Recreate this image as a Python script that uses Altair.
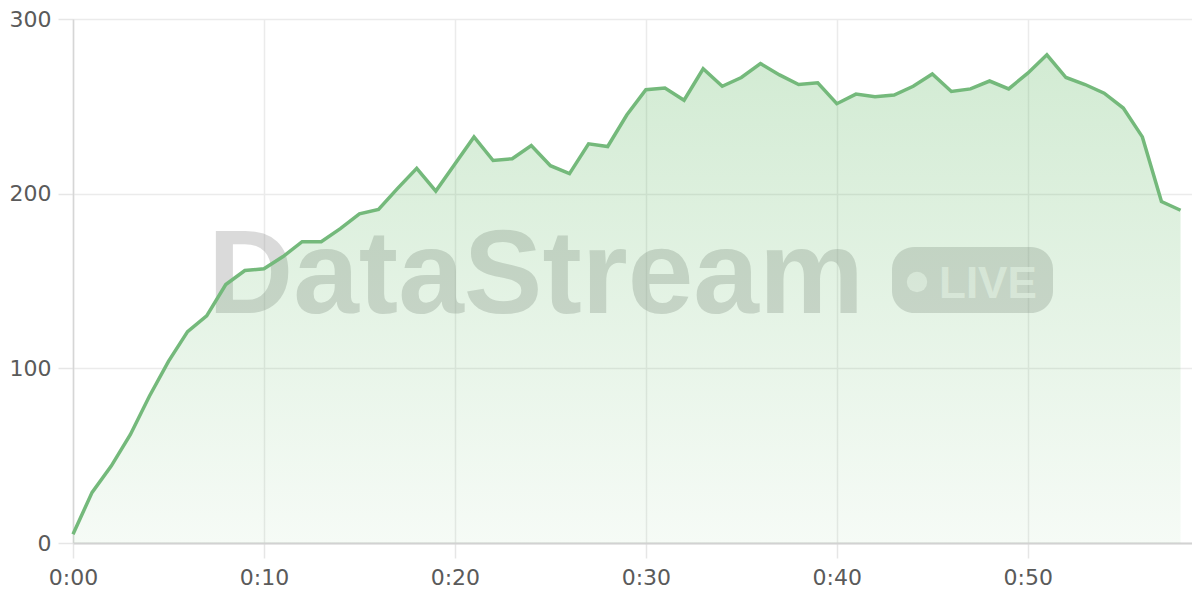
import altair as alt
import pandas as pd

# ---- data ----
minutes = list(range(59))
viewers = [5, 29, 44, 62, 84, 104, 121, 130, 148, 156,
           157, 164, 172.5, 172.5, 180, 188.5, 191, 203, 214.5, 201.5,
           217, 232.5, 219, 220, 227.5, 216, 211.5, 228.5, 227, 245,
           259.5, 260.5, 253.5, 271.5, 261.5, 266.5, 274.5, 268, 262.5, 263.5,
           251.5, 257, 255.5, 256.5, 261.5, 268.5, 258.5, 260, 264.5, 260,
           269, 279.5, 266.5, 262.5, 257.5, 249, 232.5, 195.5, 190.5]
x_ticks = [0, 10, 20, 30, 40, 50]
y_ticks = [0, 100, 200, 300]
watermark_text = ["DataStream"]
badge_text = ["LIVE"]

df = pd.DataFrame({"minute": minutes, "value": viewers})

FONT = "DejaVu Sans"

x_enc = alt.X(
    "minute:Q",
    scale=alt.Scale(domain=[0, 58.6], nice=False, zero=False),
    axis=alt.Axis(
        values=x_ticks,
        labelExpr="'0:' + (datum.value < 10 ? '0' : '') + datum.value",
        title=None,
        labelFlush=False,
        domainColor="#d2d2d2", domainWidth=2,
        gridColor="#ebebeb", gridWidth=1.5,
        tickColor="#e6e6e6", tickSize=15, tickWidth=1.5,
        labelFont=FONT, labelFontSize=22, labelColor="#5a5a5a",
        labelPadding=9,
    ),
)
y_enc = alt.Y(
    "value:Q",
    scale=alt.Scale(domain=[0, 300], nice=False),
    axis=alt.Axis(
        values=y_ticks,
        title=None,
        labelFlush=False,
        domainColor="#d6d6d6", domainWidth=1.5,
        gridColor="#ebebeb", gridWidth=1.5,
        tickColor="#e6e6e6", tickSize=15, tickWidth=1.5,
        labelFont=FONT, labelFontSize=22, labelColor="#5a5a5a",
        labelPadding=7,
    ),
)

base = alt.Chart(df)

area = base.mark_area(
    color=alt.Gradient(
        gradient="linear",
        stops=[
            alt.GradientStop(color="rgba(76,175,80,0.05)", offset=0),
            alt.GradientStop(color="rgba(76,175,80,0.25)", offset=1),
        ],
        x1=1, x2=1, y1=1, y2=0,
    )
).encode(x=x_enc, y=y_enc)

line = base.mark_line(color="#74b97b", strokeWidth=3.5).encode(x=x_enc, y=y_enc)

wm_df = pd.DataFrame({"label": watermark_text})
watermark = alt.Chart(wm_df).mark_text(
    align="left", baseline="alphabetic", font="Liberation Sans", fontWeight="bold",
    fontSize=118, color="#8f8f8f", opacity=0.32,
).encode(x=alt.value(135), y=alt.value(294), text="label:N")

pill = alt.Chart(wm_df).mark_rect(
    cornerRadius=22, color="#8f8f8f", opacity=0.32,
).encode(x=alt.value(819), x2=alt.value(980), y=alt.value(228), y2=alt.value(294))

dot = alt.Chart(wm_df).mark_circle(
    size=415, color="#ffffff", opacity=0.6,
).encode(x=alt.value(844), y=alt.value(263))

badge_df = pd.DataFrame({"label": badge_text})
live = alt.Chart(badge_df).mark_text(
    align="left", baseline="alphabetic", font="Liberation Sans", fontWeight="bold",
    fontSize=44, color="#ffffff", opacity=0.6,
).encode(x=alt.value(866), y=alt.value(279), text="label:N")

chart = alt.layer(watermark, pill, dot, live, area, line).properties(
    width=1119, height=524,
    autosize=alt.AutoSizeParams(type="none"),
    padding={"left": 65, "top": 11, "right": 0, "bottom": 50},
    background="white",
).configure_view(stroke=None)

chart.save("out.html", embed_options={"renderer": "svg", "actions": False})
